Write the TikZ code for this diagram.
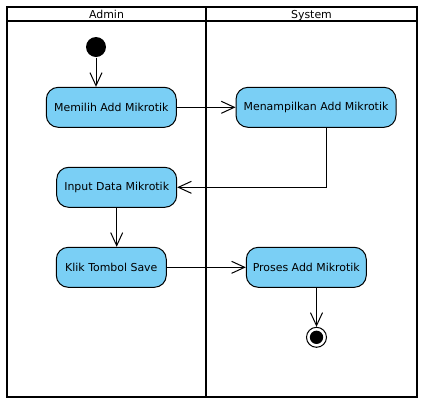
\documentclass[tikz,border=0pt]{standalone}
\usepackage{fontspec}
\setmainfont{DejaVu Sans}
\usepackage{tikz}
\usetikzlibrary{arrows.meta,calc,positioning}
\definecolor{actblue}{RGB}{122,207,245}
\tikzset{
	swimlane diagram/.style={
		x=0.75pt, y=-0.75pt,
		font=\fontsize{8.2}{10}\selectfont,
		line width=0.75pt,
		ar/.style={-{Straight Barb[length=9.75pt,width=9pt]}},
		lane/.style={draw, line width=1.5pt},
		hdr/.style={anchor=base, inner sep=0pt}
		},
	act/.style={draw, fill=actblue, rounded corners=9pt, inner sep=0pt,
		minimum height=30pt, minimum width=#1*0.75pt},
	act/.default=120,
	initial/.style={circle, fill, inner sep=0pt, minimum size=15pt},
	final/.style={circle, draw, inner sep=0pt, minimum size=15pt,
		append after command={\pgfextra{\node[circle, fill, inner sep=0pt, minimum size=10pt] at (\tikzlastnode) {};}}}
}

\begin{document}
\begin{tikzpicture}[swimlane diagram]
   \useasboundingbox (0,0) rectangle (429,405);
   \draw[lane] (7,7) rectangle (417,397);
   \draw[lane] (7,21) -- (417,21);
   \draw[lane] (206,7) -- (206,397);
   \node[hdr] (hA) at (106.5,18) {Admin};
   \node[hdr] (hS) at (311.5,18) {System};

   \node[initial] (start) at (96,47) {};
   \node[act=130] (A1) at (111.3,107.3) {Memilih Add Mikrotik};
   \node[act=160] (S1) at (316,107.3) {Menampilkan Add Mikrotik};
   \node[act=120] (A2) at (116.7,187.3) {Input Data Mikrotik};
   \node[act=110] (A3) at (111.3,267.3) {Klik Tombol Save};
   \node[act=120] (S2) at (306.3,267.3) {Proses Add Mikrotik};
   \node[final] (fin) at (316.5,337.3) {};

   \draw[ar] (start) -- (start |- A1.north);
   \draw[ar] (A1) -- (S1);
   \draw[ar] ($(S1.south)+(10.7,0)$) |- (A2);
   \draw[ar] (A2) -- (A2 |- A3.north);
   \draw[ar] (A3) -- (S2);
   \draw[ar] (fin |- S2.south) -- (fin);
\end{tikzpicture}
\end{document}
